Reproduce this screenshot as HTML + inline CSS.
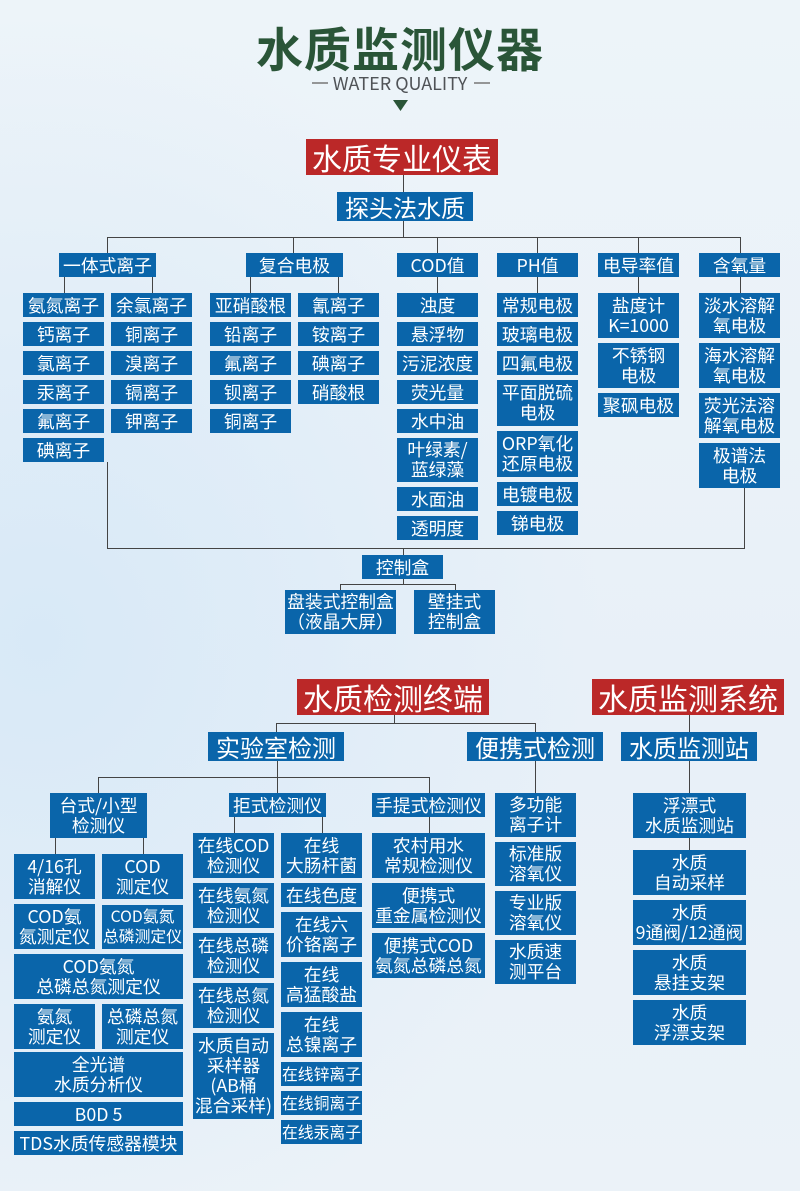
<!DOCTYPE html>
<html lang="zh-CN">
<head>
<meta charset="utf-8">
<title>水质监测仪器</title>
<style>
html,body{margin:0;padding:0}
body{width:800px;height:1191px;overflow:hidden;position:relative;background:radial-gradient(ellipse 560px 620px at 40px 640px,#d8e9f7 0%,rgba(216,233,247,0) 100%),linear-gradient(180deg,#edf4f9 0%,#e8f0f8 60%,#ebf2f8 100%);font-family:"Noto Sans CJK SC","Liberation Sans",sans-serif}
.b,.r{position:absolute;display:flex;align-items:center;justify-content:center;text-align:center;color:#fff;white-space:nowrap;background:#0a65aa;font-size:17.8px;line-height:20px;box-sizing:border-box}
.b[style*="height:44px"],.b[style*="height:45px"],.b[style*="height:46px"],.b[style*="height:86px"]{padding-bottom:2px}
.s{font-size:15.8px}
.m{font-size:24px;line-height:30px}
.r{background:#bb2828;font-size:30px;line-height:36px;left:0;top:0}
svg{position:absolute;left:0;top:0}
.h{position:absolute;left:200px;width:400px;text-align:center;top:13px;font:700 47px/68px "Noto Sans CJK SC",sans-serif;color:#2a5538;letter-spacing:1px}
.w{position:absolute;left:200px;width:400px;text-align:center;top:72px;font-size:18px;line-height:22px;color:#4f5357}
</style>
</head>
<body>
<div class="h">水质监测仪器</div>
<div class="w">WATER QUALITY</div>
<svg width="800" height="1191" viewBox="0 0 800 1191" fill="none" stroke="#444" stroke-width="1">
<path d="M312 83H328M474 83H490" stroke="#777" stroke-width="1.4"/>
<path d="M393 100H408L400.5 111Z" fill="#2a5538" stroke="none"/>
<path d="M403.5 175V237M107.5 237.5H740.5M107.5 237V253M293.5 237V253M437.5 237V293M537.5 237V293M638.5 237V293M740.5 237V293M64.5 277V293M152.5 277V293M250.5 277V293M338.5 277V293"/>
<path d="M107.5 462V548.5H744.5V488M403.5 548V584M340.5 590V584.5H455.5V590"/>
<path d="M394.5 715V723.5M276.5 732V723.5H535.5V732M689.5 715V793M689.5 838V850M277.5 761V793M98.5 793V777.5H429.5V793M535.5 761V793M55.5 838V854M143.5 838V854M234.5 817V833M322.5 817V833M429.5 817V833"/>
</svg>

<div class="r" style="left:306px;top:139px;width:192px;height:36px">水质专业仪表</div>
<div class="b m" style="left:337px;top:192px;width:136px;height:29px">探头法水质</div>

<div class="b" style="left:59px;top:253px;width:97px;height:24px">一体式离子</div>
<div class="b" style="left:246px;top:253px;width:97px;height:24px">复合电极</div>
<div class="b" style="left:397px;top:253px;width:81px;height:24px">COD值</div>
<div class="b" style="left:497px;top:253px;width:81px;height:24px">PH值</div>
<div class="b" style="left:598px;top:253px;width:81px;height:24px">电导率值</div>
<div class="b" style="left:699px;top:253px;width:81px;height:24px">含氧量</div>

<div class="b" style="left:23px;top:293px;width:81px;height:24px">氨氮离子</div>
<div class="b" style="left:23px;top:322px;width:81px;height:24px">钙离子</div>
<div class="b" style="left:23px;top:351px;width:81px;height:24px">氯离子</div>
<div class="b" style="left:23px;top:380px;width:81px;height:24px">汞离子</div>
<div class="b" style="left:23px;top:409px;width:81px;height:24px">氟离子</div>
<div class="b" style="left:23px;top:438px;width:81px;height:24px">碘离子</div>

<div class="b" style="left:111px;top:293px;width:81px;height:24px">余氯离子</div>
<div class="b" style="left:111px;top:322px;width:81px;height:24px">铜离子</div>
<div class="b" style="left:111px;top:351px;width:81px;height:24px">溴离子</div>
<div class="b" style="left:111px;top:380px;width:81px;height:24px">镉离子</div>
<div class="b" style="left:111px;top:409px;width:81px;height:24px">钾离子</div>

<div class="b" style="left:210px;top:293px;width:81px;height:24px">亚硝酸根</div>
<div class="b" style="left:210px;top:322px;width:81px;height:24px">铅离子</div>
<div class="b" style="left:210px;top:351px;width:81px;height:24px">氟离子</div>
<div class="b" style="left:210px;top:380px;width:81px;height:24px">钡离子</div>
<div class="b" style="left:210px;top:409px;width:81px;height:24px">铜离子</div>

<div class="b" style="left:298px;top:293px;width:81px;height:24px">氰离子</div>
<div class="b" style="left:298px;top:322px;width:81px;height:24px">铵离子</div>
<div class="b" style="left:298px;top:351px;width:81px;height:24px">碘离子</div>
<div class="b" style="left:298px;top:380px;width:81px;height:24px">硝酸根</div>

<div class="b" style="left:397px;top:293px;width:81px;height:24px">浊度</div>
<div class="b" style="left:397px;top:322px;width:81px;height:24px">悬浮物</div>
<div class="b" style="left:397px;top:351px;width:81px;height:24px">污泥浓度</div>
<div class="b" style="left:397px;top:380px;width:81px;height:24px">荧光量</div>
<div class="b" style="left:397px;top:409px;width:81px;height:24px">水中油</div>
<div class="b" style="left:397px;top:438px;width:81px;height:44px">叶绿素/<br>蓝绿藻</div>
<div class="b" style="left:397px;top:487px;width:81px;height:24px">水面油</div>
<div class="b" style="left:397px;top:516px;width:81px;height:24px">透明度</div>

<div class="b" style="left:497px;top:293px;width:81px;height:24px">常规电极</div>
<div class="b" style="left:497px;top:322px;width:81px;height:24px">玻璃电极</div>
<div class="b" style="left:497px;top:351px;width:81px;height:24px">四氟电极</div>
<div class="b" style="left:497px;top:380px;width:81px;height:46px">平面脱硫<br>电极</div>
<div class="b" style="left:497px;top:431px;width:81px;height:46px">ORP氧化<br>还原电极</div>
<div class="b" style="left:497px;top:482px;width:81px;height:24px">电镀电极</div>
<div class="b" style="left:497px;top:511px;width:81px;height:24px">锑电极</div>

<div class="b" style="left:598px;top:293px;width:81px;height:45px">盐度计<br>K=1000</div>
<div class="b" style="left:598px;top:343px;width:81px;height:45px">不锈钢<br>电极</div>
<div class="b" style="left:598px;top:393px;width:81px;height:24px">聚砜电极</div>

<div class="b" style="left:699px;top:293px;width:81px;height:45px">淡水溶解<br>氧电极</div>
<div class="b" style="left:699px;top:343px;width:81px;height:45px">海水溶解<br>氧电极</div>
<div class="b" style="left:699px;top:393px;width:81px;height:45px">荧光法溶<br>解氧电极</div>
<div class="b" style="left:699px;top:443px;width:81px;height:45px">极谱法<br>电极</div>

<div class="b" style="left:362px;top:555px;width:81px;height:24px">控制盒</div>
<div class="b" style="left:285px;top:590px;width:111px;height:44px">盘装式控制盒<br>（液晶大屏）</div>
<div class="b" style="left:414px;top:590px;width:81px;height:44px">壁挂式<br>控制盒</div>

<div class="r" style="left:297px;top:679px;width:192px;height:36px">水质检测终端</div>
<div class="r" style="left:592px;top:679px;width:192px;height:36px">水质监测系统</div>
<div class="b m" style="left:208px;top:732px;width:136px;height:29px">实验室检测</div>
<div class="b m" style="left:467px;top:732px;width:136px;height:29px">便携式检测</div>
<div class="b m" style="left:621px;top:732px;width:136px;height:29px">水质监测站</div>

<div class="b" style="left:50px;top:793px;width:97px;height:45px">台式/小型<br>检测仪</div>
<div class="b" style="left:229px;top:793px;width:97px;height:24px">拒式检测仪</div>
<div class="b" style="left:372px;top:793px;width:113px;height:24px">手提式检测仪</div>

<div class="b" style="left:14px;top:854px;width:81px;height:45px">4/16孔<br>消解仪</div>
<div class="b" style="left:102px;top:854px;width:81px;height:45px">COD<br>测定仪</div>
<div class="b" style="left:14px;top:904px;width:81px;height:45px">COD氨<br>氮测定仪</div>
<div class="b s" style="left:102px;top:905px;width:81px;height:44px">COD氨氮<br>总磷测定仪</div>
<div class="b" style="left:14px;top:954px;width:169px;height:45px">COD氨氮<br>总磷总氮测定仪</div>
<div class="b" style="left:14px;top:1004px;width:81px;height:45px">氨氮<br>测定仪</div>
<div class="b" style="left:102px;top:1004px;width:81px;height:45px">总磷总氮<br>测定仪</div>
<div class="b" style="left:14px;top:1052px;width:169px;height:45px">全光谱<br>水质分析仪</div>
<div class="b" style="left:14px;top:1102px;width:169px;height:24px">B0D 5</div>
<div class="b" style="left:14px;top:1131px;width:169px;height:24px">TDS水质传感器模块</div>

<div class="b" style="left:193px;top:833px;width:81px;height:45px">在线COD<br>检测仪</div>
<div class="b" style="left:193px;top:883px;width:81px;height:45px">在线氨氮<br>检测仪</div>
<div class="b" style="left:193px;top:933px;width:81px;height:45px">在线总磷<br>检测仪</div>
<div class="b" style="left:193px;top:983px;width:81px;height:45px">在线总氮<br>检测仪</div>
<div class="b" style="left:193px;top:1033px;width:81px;height:86px">水质自动<br>采样器<br>(AB桶<br>混合采样)</div>

<div class="b" style="left:281px;top:833px;width:81px;height:45px">在线<br>大肠杆菌</div>
<div class="b" style="left:281px;top:883px;width:81px;height:24px">在线色度</div>
<div class="b" style="left:281px;top:912px;width:81px;height:45px">在线六<br>价铬离子</div>
<div class="b" style="left:281px;top:962px;width:81px;height:45px">在线<br>高猛酸盐</div>
<div class="b" style="left:281px;top:1012px;width:81px;height:45px">在线<br>总镍离子</div>
<div class="b s" style="left:281px;top:1062px;width:81px;height:24px">在线锌离子</div>
<div class="b s" style="left:281px;top:1091px;width:81px;height:24px">在线铜离子</div>
<div class="b s" style="left:281px;top:1120px;width:81px;height:24px">在线汞离子</div>

<div class="b" style="left:372px;top:833px;width:113px;height:45px">农村用水<br>常规检测仪</div>
<div class="b" style="left:372px;top:883px;width:113px;height:45px">便携式<br>重金属检测仪</div>
<div class="b" style="left:372px;top:933px;width:113px;height:45px">便携式COD<br>氨氮总磷总氮</div>

<div class="b" style="left:495px;top:793px;width:81px;height:44px">多功能<br>离子计</div>
<div class="b" style="left:495px;top:842px;width:81px;height:44px">标准版<br>溶氧仪</div>
<div class="b" style="left:495px;top:891px;width:81px;height:44px">专业版<br>溶氧仪</div>
<div class="b" style="left:495px;top:940px;width:81px;height:44px">水质速<br>测平台</div>

<div class="b" style="left:633px;top:793px;width:113px;height:45px">浮漂式<br>水质监测站</div>
<div class="b" style="left:633px;top:850px;width:113px;height:45px">水质<br>自动采样</div>
<div class="b" style="left:633px;top:900px;width:113px;height:45px">水质<br>9通阀/12通阀</div>
<div class="b" style="left:633px;top:950px;width:113px;height:45px">水质<br>悬挂支架</div>
<div class="b" style="left:633px;top:1000px;width:113px;height:45px">水质<br>浮漂支架</div>
</body>
</html>
